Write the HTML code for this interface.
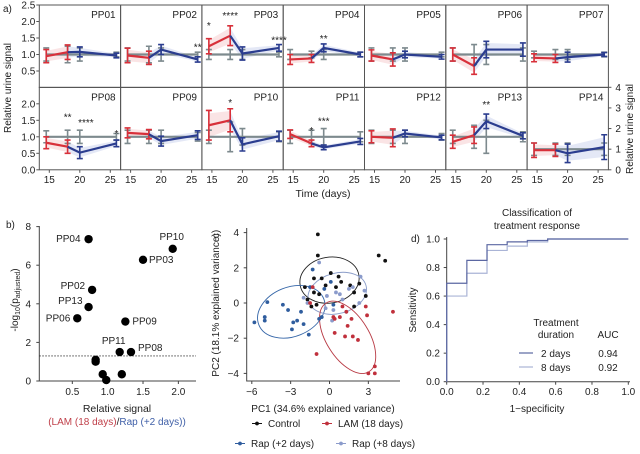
<!DOCTYPE html>
<html><head><meta charset="utf-8"><style>
html,body{margin:0;padding:0;background:#fff;}
svg{display:block;font-family:"Liberation Sans","DejaVu Sans",sans-serif;}
</style></head><body>
<svg id="fig" width="640" height="454" viewBox="0 0 640 454" xmlns="http://www.w3.org/2000/svg"></svg>
<script>
// ---------- Panel a data ----------
const panelNames=["PP01","PP02","PP03","PP04","PP05","PP06","PP07","PP08","PP09","PP10","PP11","PP12","PP13","PP14"];
const times=[14.5,18,20,26];
const redMeans=[[0.95,1.07],[0.97,0.9],[1.25,1.57],[0.85,0.88],[0.97,0.85],[1.0,0.65],[0.9,0.88],[0.82,0.7],[1.12,1.08],[1.35,1.5],[1.08,0.8],[1.0,0.97],[0.85,1.05],[0.95,0.95]];
const redErr=[[0.2,0.22],[0.22,0.2],[0.23,0.3],[0.15,0.12],[0.17,0.2],[0.2,0.25],[0.12,0.12],[0.18,0.2],[0.15,0.14],[0.45,0.35],[0.13,0.1],[0.18,0.27],[0.2,0.25],[0.35,0.3]];
const blueMeans=[[1.07,1.08,0.97],[0.9,1.15,0.85],[1.57,1.03,1.2],[0.88,1.2,1.0],[0.85,1.0,0.93],[0.65,1.15,1.15],[0.88,0.92,1.0],[0.7,0.52,0.8],[1.08,0.87,1.05],[1.5,0.77,1.02],[0.8,0.68,0.86],[0.97,1.1,0.98],[1.05,1.47,1.03],[0.95,0.8,1.1]];
const blueErr=[[0.22,0.15,0.07],[0.2,0.15,0.08],[0.3,0.2,0.1],[0.12,0.12,0.07],[0.2,0.1,0.07],[0.25,0.25,0.2],[0.12,0.15,0.06],[0.2,0.18,0.1],[0.14,0.15,0.13],[0.35,0.2,0.15],[0.1,0.07,0.09],[0.27,0.1,0.07],[0.25,0.22,0.09],[0.3,0.45,0.6]];
const ctrlMeans=[[1,1,1,1],[1,1,1,1],[1,1,1,1],[1,1,1,1],[1,1,1,1],[1,1,1,1],[1,1,1,1],[1,1,1,1],[1,1,1,1],[1,1,1,1],[1,1,1,1],[1,1,1,1],[1,1,1,1],[1,1,1,1]];
const ctrlErr=[[0.2,0.25,0.2,0.07],[0.2,0.25,0.2,0.07],[0.15,0.15,0.15,0.07],[0.15,0.1,0.15,0.07],[0.2,0.2,0.2,0.07],[0.2,0.3,0.3,0.2],[0.1,0.15,0.15,0.07],[0.18,0.2,0.2,0.1],[0.2,0.2,0.2,0.13],[0.2,0.45,0.25,0.15],[0.2,0.2,0.25,0.15],[0.2,0.2,0.2,0.1],[0.2,0.35,0.5,0.15],[0.3,0.3,0.3,0.3]];
const starMarks=[[],[[26,1.25,"**"]],[[14.5,1.9,"*"],[18,2.2,"****"],[26,1.45,"****"]],[[20,1.5,"**"]],[],[],[],[[18,1.62,"**"],[21,1.45,"****"],[26,1.12,"*"]],[],[[18,2.05,"*"]],[[18,1.2,"*"],[20,1.5,"***"]],[],[[20,2.0,"**"]],[]];
const leftTicksTop=["2.5","2.0","1.5","1.0","0.5"];
const leftTickValsTop=[2.5,2.0,1.5,1.0,0.5];
const leftTicksBot=["2.0","1.5","1.0","0.5","0.0"];
const leftTickValsBot=[2.0,1.5,1.0,0.5,0.0];
const xTickVals=[15,20,25];
const rightTickVals=[0,1,2,3,4];

// ---------- Panel b data ----------
const bX=[0.73,1.92,1.5,0.78,0.73,0.57,1.25,1.17,1.33,0.83,0.83,0.93,1.2,0.98];
const bY=[7.35,6.85,6.28,4.72,3.83,3.25,3.08,1.5,1.5,1.1,1.0,0.35,0.35,0.05];
const bLabels=["PP04","PP10","PP03","PP02","PP13","PP06","PP09","PP11","PP08","","","","",""];
const bThreshold=1.3;
const bXTicks=[0.5,1.0,1.5,2.0];
const bYTicks=[0,2,4,6,8];

// ---------- Panel c data ----------
const ctrlPC1=[-0.9,-0.9,-1.9,-1.2,-0.6,-1.7,-0.8,-1.0,0.7,0.9,1.6,2.3,1.9,2.8,3.8,4.3,0.1,-0.3,-1.2,1.9,-1.4,0.5];
const ctrlPC2=[3.9,2.7,0.9,1.4,1.4,0.2,0.5,-0.1,1.5,1.2,1.0,1.1,0.6,0.4,2.7,2.4,1.7,1.0,0.6,-0.2,-0.2,0.9];
const rap2PC1=[-5.8,-5.0,-5.0,-4.8,-3.6,-3.2,-2.8,-2.9,-2.5,-2.0,-1.6,-2.2,-1.3,-0.8,-1.5,-0.4,0.3,0.1,-0.6];
const rap2PC2=[-1.1,-0.8,-1.0,0.05,-0.1,-0.4,-1.1,-1.5,-1.0,-1.2,-1.8,-0.5,1.9,-0.9,0.9,0.8,-0.1,1.2,-0.8];
const rap8PC1=[-2.0,-0.8,0.5,1.0,1.5,2.4,2.7,0.3,1.3,2.3,-0.2,0.2,1.8,-1.7,0.8,-0.3];
const rap8PC2=[0.3,2.3,0.6,0.2,0.8,1.5,0.7,-0.4,-0.5,0.0,0.4,-1.0,0.9,0.0,0.5,-0.3];
const lamPC1=[-1.5,-1.3,-1.0,1.3,0.3,0.4,0.8,1.4,1.7,0.4,1.2,1.8,2.2,2.8,2.9,3.5,3.0,3.5,4.9,1.0];
const lamPC2=[0.0,0.9,-2.9,-0.5,-0.8,-0.9,-0.8,-1.3,-0.9,-1.7,-1.9,-1.9,-2.1,-0.2,-0.7,-3.6,-4.0,-4.0,-0.5,-0.2];
const cXTicks=[-6,-3,0,3];
const cYTicks=[-4,-2,0,2,4];

// ---------- Panel d data ----------
const roc2FPR=[0,0,0.111,0.111,0.222,0.222,0.333,0.333,0.444,0.444,0.556,0.556,1];
const roc2TPR=[0,0.69,0.69,0.85,0.85,0.96,0.96,0.98,0.98,0.99,0.99,1,1];
const roc8FPR=[0,0,0.111,0.111,0.222,0.222,0.333,0.333,0.444,0.444,0.556,0.556,1];
const roc8TPR=[0,0.6,0.6,0.76,0.76,0.92,0.92,0.95,0.95,0.98,0.98,1,1];
const dTicks=[0,0.2,0.4,0.6,0.8,1.0];

const NS="http://www.w3.org/2000/svg";
const svg=document.getElementById('fig');
function mk(tag,attrs,parent){const e=document.createElementNS(NS,tag);for(const k in attrs)e.setAttribute(k,attrs[k]);(parent||svg).appendChild(e);return e;}
function txt(x,y,s,size,anchor,fill,parent){const t=mk('text',{x:x,y:y,'font-size':size,'text-anchor':anchor||'start',fill:fill||'#222'},parent);t.textContent=s;return t;}

const RED="#d8303a",BLUE="#2b3d8f",GRAY="#7d8a8e";
// ===== Panel a =====
const ga=mk('g',{});


const PX0=39.3,PW=81.3,PH=82.5;
const tLab=txt(3,12,"a)",10,'start','#222',ga);


for(let p=0;p<14;p++){
  const col=p%7,row=Math.floor(p/7);
  const x0=PX0+col*PW, y0=row===0?5:87.3;
  const isR=(p===13);
  const unit=isR?PH/4:PH/2.5;
  const sx=t=>x0+10+(t-15)*6.1;
  const sy=v=>y0+PH-v*unit;
  const g=mk('g',{},ga);
  
  
  const fr=mk('rect',{x:x0,y:y0,width:PW,height:PH,fill:'none',stroke:'#555','stroke-width':1},g);
  
  
  const nm=txt(x0+PW-5,y0+13,panelNames[p],10,'end','#222',g);
  
  
  // blue band
  const bt=[18,20,26];
  let band="";
  bt.forEach((t,i)=>{band+=(i?"L":"M")+sx(t)+","+sy(blueMeans[p][i]+blueErr[p][i]*0.8);});
  for(let i=2;i>=0;i--)band+="L"+sx(bt[i])+","+sy(blueMeans[p][i]-blueErr[p][i]*0.8);
  const bd=mk('path',{d:band+"Z",fill:'#c9d2ee','fill-opacity':0.5,stroke:'none'},g);
  
  
  let rband="M"+sx(times[0])+","+sy(redMeans[p][0]+redErr[p][0]*0.8)+"L"+sx(times[1])+","+sy(redMeans[p][1]+redErr[p][1]*0.8)+"L"+sx(times[1])+","+sy(redMeans[p][1]-redErr[p][1]*0.8)+"L"+sx(times[0])+","+sy(redMeans[p][0]-redErr[p][0]*0.8)+"Z";
  const rb=mk('path',{d:rband,fill:'#f6c9cc','fill-opacity':0.5,stroke:'none'},g);
  
  
  function errbar(t,m,e,color,name){
    const x=sx(t);
    const eb=mk('path',{d:`M${x},${sy(m-e)}V${sy(m+e)}M${x-3},${sy(m-e)}H${x+3}M${x-3},${sy(m+e)}H${x+3}`,stroke:color,'stroke-width':1.6,fill:'none'},g);
    
    
  }
  // control
  let cd="";times.forEach((t,i)=>{cd+=(i?"L":"M")+sx(t)+","+sy(ctrlMeans[p][i]);});
  const cl=mk('path',{d:cd,stroke:GRAY,'stroke-width':2.2,fill:'none'},g);
  
  
  times.forEach((t,i)=>errbar(t,ctrlMeans[p][i],ctrlErr[p][i],GRAY,'control-error-bar'));
  // red
  const rl=mk('path',{d:`M${sx(times[0])},${sy(redMeans[p][0])}L${sx(times[1])},${sy(redMeans[p][1])}`,stroke:RED,'stroke-width':2.2,fill:'none'},g);
  
  
  errbar(times[0],redMeans[p][0],redErr[p][0],RED,'lam-error-bar');
  errbar(times[1],redMeans[p][1],redErr[p][1],RED,'lam-error-bar');
  // blue
  let bdp="";bt.forEach((t,i)=>{bdp+=(i?"L":"M")+sx(t)+","+sy(blueMeans[p][i]);});
  const bl=mk('path',{d:bdp,stroke:BLUE,'stroke-width':2.2,fill:'none'},g);
  
  
  errbar(20,blueMeans[p][1],blueErr[p][1],BLUE,'rap-error-bar');
  errbar(26,blueMeans[p][2],blueErr[p][2],BLUE,'rap-error-bar');
  // stars
  starMarks[p].forEach(s=>{
    const st=txt(sx(s[0]),sy(s[1])+4,s[2],10,'middle','#222',g);
    
    
  });
  // x ticks
  if(row===1){
    xTickVals.forEach(v=>{
      const tk=mk('line',{x1:sx(v),x2:sx(v),y1:y0+PH,y2:y0+PH+3,stroke:'#555'},g);
      
      
      const tl=txt(sx(v),y0+PH+13,String(v),10,'middle','#222',g);
      
      
    });
  }
  if(col===0){
    const vals=row===0?leftTickValsTop:leftTickValsBot, labs=row===0?leftTicksTop:leftTicksBot;
    vals.forEach((v,i)=>{
      const tk=mk('line',{x1:x0-3,x2:x0,y1:sy(v),y2:sy(v),stroke:'#555'},g);
      
      
      const tl=txt(x0-4,sy(v)+3.5,labs[i],10,'end','#222',g);
      
      
    });
  }
  if(isR){
    rightTickVals.forEach(v=>{
      const tk=mk('line',{x1:x0+PW,x2:x0+PW+3,y1:sy(v),y2:sy(v),stroke:'#555'},g);
      
      
      const tl=txt(x0+PW+7,sy(v)+3.5,String(v),10,'start','#222',g);
      
      
    });
  }
}
const yla=txt(0,0,"Relative urine signal",10,'middle','#222',ga);
yla.setAttribute('transform','translate(11,88) rotate(-90)');


const yra=txt(0,0,"Relative urine signal",10,'middle','#222',ga);
yra.setAttribute('transform','translate(633,129) rotate(-90)');


const xla=txt(323,197,"Time (days)",10.5,'middle','#222',ga);



// ===== Panel b =====
const gb=mk('g',{});


const bsx=v=>39.3+(v-0.033)*70.7, bsy=v=>381-v*19.3;
const bax=mk('path',{d:`M39.3,226V381H196`,stroke:'#444',fill:'none'},gb);


bXTicks.forEach(v=>{
  const tk=mk('line',{x1:bsx(v),x2:bsx(v),y1:381,y2:384,stroke:'#444'},gb);
  
  
  const tl=txt(bsx(v),395,v.toFixed(1),10,'middle','#222',gb);
  
  
});
bYTicks.forEach(v=>{
  const tk=mk('line',{x1:36.3,x2:39.3,y1:bsy(v),y2:bsy(v),stroke:'#444'},gb);
  
  
  const tl=txt(31,bsy(v)+3.5,String(v),10,'end','#222',gb);
  
  
});
const thr=mk('line',{x1:39.3,x2:196,y1:bsy(bThreshold),y2:bsy(bThreshold),stroke:'#333','stroke-dasharray':'1.5,1.5','stroke-width':0.9},gb);


const lblOff={"PP04":[-8,3,'end'],"PP10":[-1,-9,'middle'],"PP03":[6,3,'start'],"PP02":[-7,-1,'end'],"PP13":[-6,-3,'end'],"PP06":[-7,3,'end'],"PP09":[7,3,'start'],"PP11":[-6,-8,'middle'],"PP08":[7,-1,'start']};
bX.forEach((v,i)=>{
  const c=mk('circle',{cx:bsx(v),cy:bsy(bY[i]),r:4.2,fill:'#000'},gb);
  
  
  if(bLabels[i]){
    const o=lblOff[bLabels[i]];
    const t=txt(bsx(v)+o[0],bsy(bY[i])+o[1],bLabels[i],10,o[2],'#222',gb);
    
    
  }
});
const byl=mk('text',{'font-size':10,'text-anchor':'middle',fill:'#222',transform:'translate(18,300) rotate(-90)'},gb);
byl.innerHTML='-log<tspan font-size="7" dy="2">10</tspan><tspan dy="-2">(p</tspan><tspan font-size="7" dy="2">adjusted</tspan><tspan dy="-2">)</tspan>';


const bxl=txt(117,412,"Relative signal",10.5,'middle','#222',gb);


const bxl2=mk('text',{x:117,y:425,'font-size':10,'text-anchor':'middle',fill:'#222'},gb);
bxl2.innerHTML='<tspan fill="#c0404a">(LAM (18 days)</tspan>/<tspan fill="#4060a8">Rap (+2 days))</tspan>';


const blb=txt(6,228,"b)",10,'start','#222',gb);



// ===== Panel c =====
const gc=mk('g',{});


const csx=v=>329.5+v*12.95, csy=v=>303-v*17.6;
const cax=mk('path',{d:`M246.7,228V381H400`,stroke:'#444',fill:'none'},gc);


cXTicks.forEach(v=>{
  const tk=mk('line',{x1:csx(v),x2:csx(v),y1:381,y2:384,stroke:'#444'},gc);
  
  
  const tl=txt(csx(v),395,v<0?"−"+Math.abs(v):String(v),10,'middle','#222',gc);
  
  
});
cYTicks.forEach(v=>{
  const tk=mk('line',{x1:243.7,x2:246.7,y1:csy(v),y2:csy(v),stroke:'#444'},gc);
  
  
  const tl=txt(239,csy(v)+3.5,v<0?"−"+Math.abs(v):String(v),10,'end','#222',gc);
  
  
});
const ellipses=[[0,1.3,2.3,1.3,-10,'#222','control-ellipse'],[-2.95,-0.5,2.7,1.4,-22,'#3566a8','rap2-ellipse'],[0.6,0.55,2.3,1.15,-15,'#8a9cc8','rap8-ellipse'],[1.4,-1.95,1.65,2.3,-32,'#b83a44','lam-ellipse']];
ellipses.forEach(e=>{
  const el=mk('ellipse',{cx:csx(e[0]),cy:csy(e[1]),rx:e[2]*12.95,ry:e[3]*17.6,fill:'none',stroke:e[5],'stroke-width':0.9,transform:`rotate(${e[4]} ${csx(e[0])} ${csy(e[1])})`},gc);
  
  
});
function scat(xs,ys,color,name){xs.forEach((v,i)=>{const c=mk('circle',{cx:csx(v),cy:csy(ys[i]),r:1.9,fill:color},gc);});}
scat(ctrlPC1,ctrlPC2,'#111','control-point');
scat(rap2PC1,rap2PC2,'#2f5d9e','rap2-point');
scat(rap8PC1,rap8PC2,'#8b9bcb','rap8-point');
scat(lamPC1,lamPC2,'#c0303c','lam-point');
const cyl=txt(0,0,"PC2 (18.1% explained variance)",10,'middle','#222',gc);
cyl.setAttribute('transform','translate(219,305) rotate(-90)');


const clb=txt(0,0,"c)",10,'middle','#222',gc);
clb.setAttribute('transform','translate(219,234) rotate(-90)');


const cxl=txt(323,412,"PC1 (34.6% explained variance)",10,'middle','#222',gc);


const legItems=[[252,427,'#111','Control'],[322,427,'#c0303c','LAM (18 days)'],[235,447,'#2f5d9e','Rap (+2 days)'],[336,447,'#8b9bcb','Rap (+8 days)']];
legItems.forEach(l=>{
  const g=mk('g',{},gc);
  
  
  mk('line',{x1:l[0],x2:l[0]+10,y1:l[1]-3.5,y2:l[1]-3.5,stroke:l[2],'stroke-width':1},g);
  mk('circle',{cx:l[0]+5,cy:l[1]-3.5,r:1.9,fill:l[2]},g);
  txt(l[0]+16,l[1],l[3],10,'start','#222',g);
});

// ===== Panel d =====
const gd=mk('g',{});


const dsx=v=>446.7+v*181.6, dsy=v=>381.7-v*142.7;
const dax=mk('path',{d:`M446.7,237V381.7H630`,stroke:'#444',fill:'none'},gd);


dTicks.forEach(v=>{
  const tk=mk('line',{x1:dsx(v),x2:dsx(v),y1:381.7,y2:384.7,stroke:'#444'},gd);
  
  
  const tl=txt(dsx(v),395,v.toFixed(1),10,'middle','#222',gd);
  
  
  const tk2=mk('line',{x1:443.7,x2:446.7,y1:dsy(v),y2:dsy(v),stroke:'#444'},gd);
  
  
  const tl2=txt(440,dsy(v)+3.5,v.toFixed(1),10,'end','#222',gd);
  
  
});
function roc(xs,ys,color,name){let d="";xs.forEach((v,i)=>{d+=(i?"L":"M")+dsx(v)+","+dsy(ys[i]);});const p=mk('path',{d:d,stroke:color,'stroke-width':1.2,fill:'none'},gd);}
roc(roc8FPR,roc8TPR,'#aab4d6','roc-8-days');
roc(roc2FPR,roc2TPR,'#5b67a2','roc-2-days');
const dt1=txt(537,216,"Classification of",10,'middle','#222',gd);


const dt2=txt(537,229,"treatment response",10,'middle','#222',gd);


const dlb=txt(411,242,"d)",10,'start','#222',gd);


const dyl=txt(0,0,"Sensitivity",10,'middle','#222',gd);
dyl.setAttribute('transform','translate(416,310) rotate(-90)');


const dxl=txt(537,412,"1−specificity",10,'middle','#222',gd);


const dlg=mk('g',{},gd);


txt(556,326,"Treatment",10,'middle','#222',dlg);
txt(556,338,"duration",10,'middle','#222',dlg);
txt(608,338,"AUC",10,'middle','#222',dlg);
mk('line',{x1:519,x2:533,y1:353,y2:353,stroke:'#5b67a2','stroke-width':1.2},dlg);
txt(541,357,"2 days",10,'start','#222',dlg);
txt(608,357,"0.94",10,'middle','#222',dlg);
mk('line',{x1:519,x2:533,y1:367,y2:367,stroke:'#aab4d6','stroke-width':1.2},dlg);
txt(541,371,"8 days",10,'start','#222',dlg);
txt(608,371,"0.92",10,'middle','#222',dlg);
</script>
</body></html>
